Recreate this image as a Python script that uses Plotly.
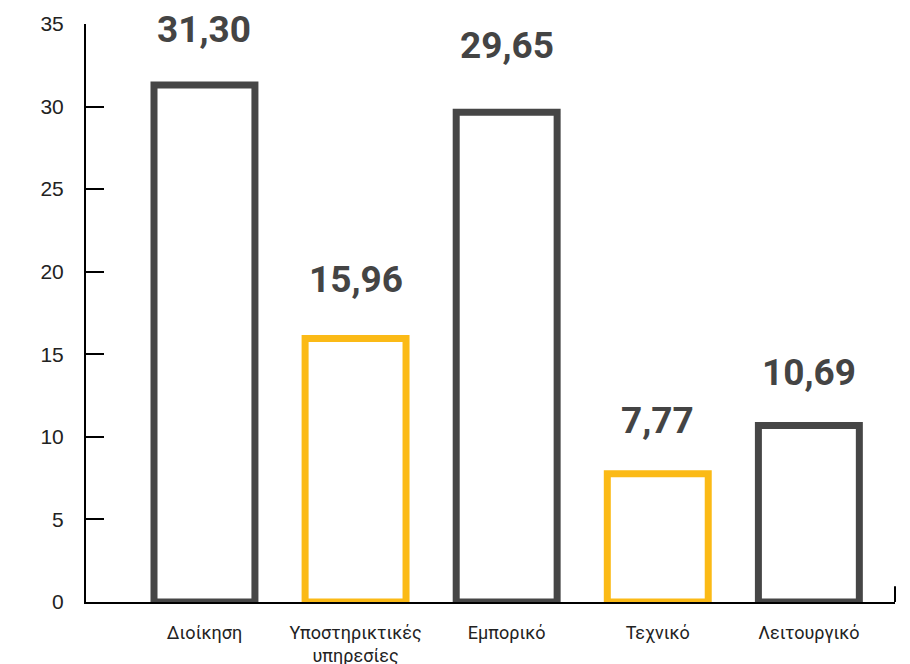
import plotly.graph_objects as go

# Department categories and their values
categories = ["Διοίκηση", "Υποστηρικτικές<br>υπηρεσίες", "Εμπορικό", "Τεχνικό", "Λειτουργικό"]
values = [31.30, 15.96, 29.65, 7.77, 10.69]
value_labels = ["31,30", "15,96", "29,65", "7,77", "10,69"]
y_ticks = [0, 5, 10, 15, 20, 25, 30, 35]

DARK = "#464646"
YELLOW = "#FBBA16"
outline_colors = [DARK, YELLOW, DARK, YELLOW, DARK]
# vertical lift (px) of each value label above its bar
label_lift = [56, 59, 67, 53, 53]

x_pos = list(range(len(categories)))

fig = go.Figure()
fig.add_trace(go.Bar(
    x=x_pos,
    y=values,
    width=0.668,
    marker=dict(color="rgba(255,255,255,0)", line=dict(color=outline_colors, width=7)),
    hoverinfo="skip",
))

for xi, v, txt, lift in zip(x_pos, values, value_labels, label_lift):
    fig.add_annotation(
        x=xi, y=v, text=f"<b>{txt}</b>", showarrow=False,
        xanchor="center", yanchor="middle", yshift=lift,
        font=dict(family="Roboto", size=37, color="#444444"),
    )

# short upward tick at the right end of the baseline
fig.add_shape(type="line", xref="paper", yref="y", x0=1.0, x1=1.0, y0=0, y1=0.95,
              line=dict(color="black", width=2))

fig.update_layout(
    width=910, height=664,
    margin=dict(l=86, r=15, t=24, b=62, autoexpand=False),
    paper_bgcolor="white", plot_bgcolor="white",
    showlegend=False,
    font=dict(family="Roboto", color="#222222"),
)
fig.update_xaxes(
    range=[-0.784, 4.570],
    tickmode="array", tickvals=x_pos, ticktext=categories,
    showline=True, linecolor="black", linewidth=2,
    showgrid=False, zeroline=False, ticks="",
    ticklabelstandoff=13, automargin=False,
    tickfont=dict(size=18, color="#222222"),
    layer="below traces",
)
fig.update_yaxes(
    range=[0, 35],
    tickmode="array", tickvals=y_ticks,
    showline=True, linecolor="black", linewidth=2,
    showgrid=False, zeroline=False,
    ticks="inside", ticklen=18, tickwidth=2, tickcolor="black",
    ticklabelstandoff=16, automargin=False,
    tickfont=dict(family="Liberation Sans, Arial", size=21, color="#222222"),
)

fig.write_html("out.html")
